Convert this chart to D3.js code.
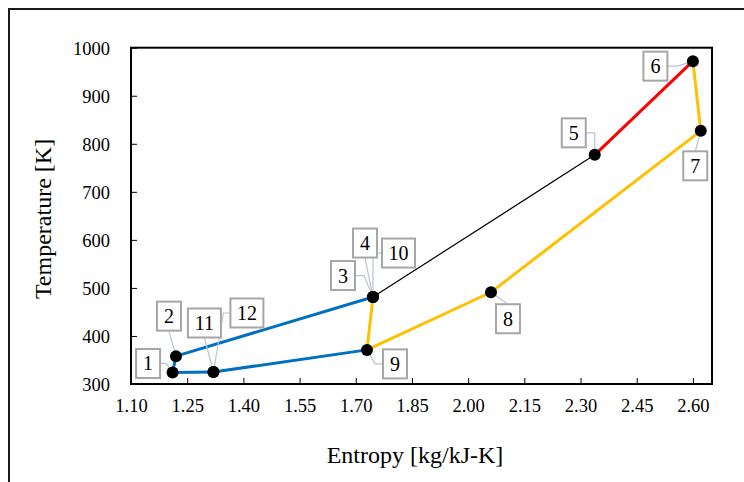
<!DOCTYPE html>
<html>
<head>
<meta charset="utf-8">
<script src="https://cdn.jsdelivr.net/npm/d3@7"></script>
<style>
  body { margin: 0; background: #fff; }
  svg text { font-family: "Liberation Serif", "Times New Roman", serif; fill: #000; }
</style>
</head>
<body>
<div id="chart"></div>
<script>
// state points of the cycle
const stateLabels = ["1", "2", "3", "4", "5", "6", "7", "8", "9", "10", "11", "12"];
const entropy = [1.211, 1.220, 1.746, 1.746, 2.338, 2.600, 2.621, 2.061, 1.730, 1.746, 1.320, 1.320];
const temperature = [324, 358, 481, 481, 777, 972, 827, 491, 371, 481, 325, 325];

// process lines: [from, to, kind]
const processes = [
    ["1", "2", "blue"], ["2", "3", "blue"], ["12", "1", "blue"], ["11", "9", "blue"],
    ["4", "5", "black"], ["5", "6", "red"],
    ["6", "7", "orange"], ["7", "8", "orange"], ["8", "9", "orange"], ["9", "10", "orange"]
];

const xTicks = [1.10, 1.25, 1.40, 1.55, 1.70, 1.85, 2.00, 2.15, 2.30, 2.45, 2.60];
const yTicks = [300, 400, 500, 600, 700, 800, 900, 1000];

const width = 744, height = 482;
const plot = {left: 131, right: 712, top: 47.7, bottom: 384};
const serif = "'Liberation Serif', 'Times New Roman', serif";

const lineStyle = {
    blue: {color: "#0070C0", w: 3},
    orange: {color: "#FFC000", w: 3},
    red: {color: "#FF0000", w: 3},
    black: {color: "#000000", w: 1.2}
};

// callout placement relative to the marker: box centre offset, leader side, elbow
const callouts = {
    "1": {dx: -24.5, dy: -9, side: "right", elbow: 6},
    "2": {dx: -7, dy: -40, side: "bottom"},
    "3": {dx: -30, dy: -21.5, side: "right", elbow: 9},
    "4": {dx: -8, dy: -54, side: "bottom"},
    "5": {dx: -21, dy: -22, side: "right", elbow: 9},
    "6": {dx: -37.5, dy: 5, side: "right", elbow: 10},
    "7": {dx: -5.5, dy: 35, side: "top"},
    "8": {dx: 17, dy: 26.5, side: "top"},
    "9": {dx: 28, dy: 14, side: "left", elbow: 8},
    "10": {dx: 25.5, dy: -44, side: "left", elbow: 9},
    "11": {dx: -9, dy: -49, side: "bottom"},
    "12": {dx: 33.5, dy: -59, side: "left", elbow: 7}
};

const svg = d3.select("#chart").append("svg")
    .attr("width", width)
    .attr("height", height);

svg.append("rect")
    .attr("width", width).attr("height", height)
    .attr("fill", "#fff");

// outer chart frame (runs off the right and bottom edges)
svg.append("rect")
    .attr("x", 9).attr("y", 9)
    .attr("width", 760).attr("height", 500)
    .attr("fill", "none")
    .attr("stroke", "#1a1a1a")
    .attr("stroke-width", 2);

const xScale = d3.scaleLinear().domain([1.10, 2.651]).range([plot.left, plot.right]);
const yScale = d3.scaleLinear().domain([300, 1000]).range([plot.bottom, plot.top]);

const xAxis = d3.axisBottom(xScale)
    .tickValues(xTicks)
    .tickFormat(d3.format(".2f"))
    .tickSizeInner(-6)
    .tickSizeOuter(0)
    .tickPadding(15);

const yAxis = d3.axisLeft(yScale)
    .tickValues(yTicks)
    .tickFormat(d3.format("d"))
    .tickSizeInner(-6)
    .tickSizeOuter(0)
    .tickPadding(21);

const gx = svg.append("g")
    .attr("transform", "translate(0," + plot.bottom + ")")
    .call(xAxis);
const gy = svg.append("g")
    .attr("transform", "translate(" + plot.left + ",0)")
    .call(yAxis);

[gx, gy].forEach((g) => {
    g.attr("font-family", serif);
    g.select(".domain").remove();
    g.selectAll(".tick line").attr("stroke", "#000").attr("stroke-width", 1);
    g.selectAll(".tick text")
        .attr("font-size", 18.5)
        .style("font-family", serif);
});
gy.selectAll(".tick text").attr("dy", "0.35em");

// plot area border
svg.append("rect")
    .attr("x", plot.left).attr("y", plot.top)
    .attr("width", plot.right - plot.left)
    .attr("height", plot.bottom - plot.top)
    .attr("fill", "none")
    .attr("stroke", "#000")
    .attr("stroke-width", 2);

// axis titles
svg.append("text")
    .attr("x", 415)
    .attr("y", 463)
    .attr("text-anchor", "middle")
    .attr("font-size", 24)
    .style("font-family", serif)
    .text("Entropy [kg/kJ-K]");

svg.append("text")
    .attr("transform", "translate(51,219) rotate(-90)")
    .attr("text-anchor", "middle")
    .attr("font-size", 24)
    .style("font-family", serif)
    .text("Temperature [K]");

const points = stateLabels.map((label, i) => ({
    label: label,
    x: xScale(entropy[i]),
    y: yScale(temperature[i])
}));
const byLabel = new Map(points.map((p) => [p.label, p]));

// process lines
const lineGen = d3.line().x((d) => d.x).y((d) => d.y);
svg.append("g").selectAll("path")
    .data(processes)
    .join("path")
    .attr("d", (d) => lineGen([byLabel.get(d[0]), byLabel.get(d[1])]))
    .attr("fill", "none")
    .attr("stroke", (d) => lineStyle[d[2]].color)
    .attr("stroke-width", (d) => lineStyle[d[2]].w)
    .attr("stroke-linecap", "round");

// leader lines
const boxWidth = (label) => label.length > 1 ? 33 : 24;
const leaderPath = (p) => {
    const c = callouts[p.label];
    const w = boxWidth(p.label), h = 29;
    const cx = p.x + c.dx, cy = p.y + c.dy;
    if (c.side === "right") {
        const sx = cx + w / 2;
        return [[sx, cy], [sx + c.elbow, cy], [p.x, p.y]];
    }
    if (c.side === "left") {
        const sx = cx - w / 2;
        return [[sx, cy], [sx - c.elbow, cy], [p.x, p.y]];
    }
    if (c.side === "top") return [[cx, cy - h / 2], [p.x, p.y]];
    return [[cx, cy + h / 2], [p.x, p.y]];
};

svg.append("g").selectAll("path")
    .data(points)
    .join("path")
    .attr("d", (p) => d3.line()(leaderPath(p)))
    .attr("fill", "none")
    .attr("stroke", "#B9C4D3")
    .attr("stroke-width", 1.2);

// markers
svg.append("g").selectAll("circle")
    .data(points)
    .join("circle")
    .attr("cx", (p) => p.x)
    .attr("cy", (p) => p.y)
    .attr("r", 6)
    .attr("fill", "#000");

// callout boxes
const boxes = svg.append("g").selectAll("g")
    .data(points)
    .join("g")
    .attr("transform", (p) => "translate(" + (p.x + callouts[p.label].dx) + "," + (p.y + callouts[p.label].dy) + ")");

boxes.append("rect")
    .attr("x", (p) => -boxWidth(p.label) / 2)
    .attr("y", -14.5)
    .attr("width", (p) => boxWidth(p.label))
    .attr("height", 29)
    .attr("fill", "#fff")
    .attr("stroke", "#A6A6A6")
    .attr("stroke-width", 2);

boxes.append("text")
    .attr("text-anchor", "middle")
    .attr("dy", "0.35em")
    .attr("font-size", 20)
    .style("font-family", serif)
    .text((p) => p.label);
</script>
</body>
</html>
